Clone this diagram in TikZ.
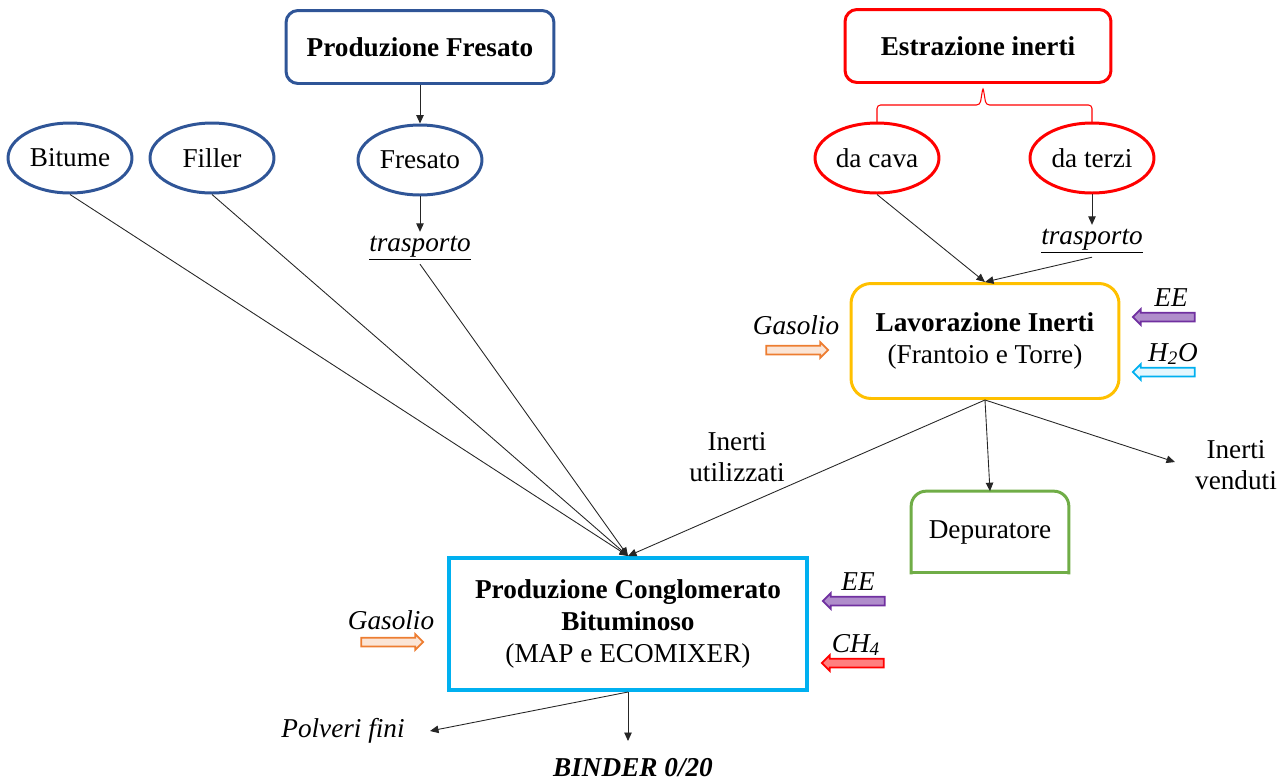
\documentclass[tikz,border=0pt]{standalone}
\usepackage{fontspec}
\setmainfont{Liberation Serif}
\usetikzlibrary{shapes.geometric,shapes.arrows,arrows.meta}
\definecolor{fblue}{HTML}{2F5597}
\definecolor{ered}{HTML}{FF0000}
\definecolor{lyellow}{HTML}{FFC000}
\definecolor{dgreen}{HTML}{70AD47}
\definecolor{ccyan}{HTML}{00B0F0}
\definecolor{gorange}{HTML}{ED7D31}
\definecolor{epurple}{HTML}{7030A0}
\tikzstyle{fbox}=[rectangle,rounded corners=0.24cm,line width=1.7pt,inner sep=0pt,align=center]
\tikzstyle{oval}=[ellipse,line width=1.7pt,inner sep=0pt,minimum width=2.48cm,minimum height=1.4cm]
\tikzstyle{conn}=[-{Triangle[length=0.17cm,width=0.15cm]},line width=0.5pt,black!85]
\tikzstyle{feed}=[single arrow,single arrow head extend=0.07cm,inner sep=0.07cm,minimum height=1.24cm,line width=1pt]
\tikzstyle{lbl}=[inner sep=2pt,align=center]

\begin{document}
\begin{tikzpicture}[x=0.02cm,y=-0.02cm,font=\fontsize{15.5}{18}\selectfont]
		\useasboundingbox (0,0) rectangle (1286,782);
		% sorgenti
		\node (pf) at (420,47) [fbox,draw=fblue,minimum width=5.36cm,minimum height=1.46cm] {\textbf{Produzione Fresato}};
		\node (est) at (978,46) [fbox,draw=ered,minimum width=5.32cm,minimum height=1.46cm] {\textbf{Estrazione inerti}};
		\node (bit) at (70,158) [oval,draw=fblue] {Bitume};
		\node (fil) at (212,158) [oval,draw=fblue] {Filler};
		\node (fre) at (420,160) [oval,draw=fblue] {Fresato};
		\node (cava) at (877,158) [oval,draw=ered] {da cava};
		\node (terzi) at (1092,158) [oval,draw=ered] {da terzi};
		\node (tr1) at (420,248) [lbl] {\underline{\textit{trasporto}}};
		\node (tr2) at (1092,241) [lbl] {\underline{\textit{trasporto}}};
		
		% impianti
		\node (lav) at (985,341) [fbox,draw=lyellow,rounded corners=0.4cm,minimum width=5.36cm,minimum height=2.3cm] {\textbf{Lavorazione Inerti}\\(Frantoio e Torre)};
		\node (dep) at (990,532) [inner sep=0pt,minimum width=3.14cm,minimum height=1.62cm] {Depuratore};
		\node (cong) at (628,624) [rectangle,draw=ccyan,line width=2.3pt,align=center,minimum width=7.16cm,minimum height=2.64cm] {\textbf{Produzione Conglomerato}\\\textbf{Bituminoso}\\(MAP e ECOMIXER)};
		\draw [dgreen,line width=1.7pt,line cap=rect,rounded corners=0.3cm] (dep.south west)-- (dep.north west)-- (dep.north east)-- (dep.south east);
		\draw [dgreen,line width=1.7pt,line cap=rect] (dep.south west)-- (dep.south east);
		
		% uscite
		\node (uti) at (737,457) [lbl] {Inerti\\utilizzati};
		\node (ven) at (1236,465) [lbl] {Inerti\\venduti};
		\node (pol) at (343,731) [lbl] {\textit{Polveri fini}};
		\node (bin) at (633,768) [lbl] {\textbf{\textit{BINDER 0/20}}};
		\coordinate (ve) at (1175,462);
		\coordinate (po) at (430,731);
		\coordinate (bi) at (628,741);
		
		% input energetici
		\node (g1) at (796,325) [lbl] {\textit{Gasolio}};
		\node (e1) at (1171,298) [lbl] {\textit{EE}};
		\node (h1) at (1173,354) [lbl] {\textit{H\textsubscript{2}O}};
		\node (g2) at (391,620) [lbl] {\textit{Gasolio}};
		\node (e2) at (858,582) [lbl] {\textit{EE}};
		\node (c2) at (856,645) [lbl] {\textit{CH\textsubscript{4}}};
		\node (ga1) at (795,350) [feed,draw=gorange,fill=gorange!20] {};
		\node (ea1) at (1166,317) [feed,draw=epurple,fill=epurple!55,shape border rotate=180] {};
		\node (ha1) at (1166,372) [feed,draw=ccyan,fill=ccyan!10,shape border rotate=180] {};
		\node (ga2) at (390,642) [feed,draw=gorange,fill=gorange!20] {};
		\node (ea2) at (856,601) [feed,draw=epurple,fill=epurple!55,shape border rotate=180] {};
		\node (ca2) at (855,663) [feed,draw=ered,fill=ered!50,shape border rotate=180] {};
		
		% graffa
		\draw [ered,line width=0.6pt,rounded corners=2pt] (877,122)-- (877,105)-- (980,105)-- (983,87)-- (986,105)-- (1092,105)-- (1092,122);
		
		\draw [conn] (pf.south)-- (fre.north);
		\draw [conn] (fre.south)-- (tr1.north);
		\draw [conn] (terzi.south)-- (tr2.north);
		\draw [conn] (cava.south)-- (lav.north);
		\draw [conn] (tr2.south)-- (lav.north);
		\draw [conn] (bit.south)-- (cong.north);
		\draw [conn] (fil.south)-- (cong.north);
		\draw [conn] (tr1.south)-- (cong.north);
		\draw [conn] (lav.south)-- (cong.north);
		\draw [conn] (lav.south)-- (dep.north);
		\draw [conn] (lav.south)-- (ve);
		\draw [conn] (cong.south)-- (po);
		\draw [conn] (cong.south)-- (bi);
	\end{tikzpicture}
\end{document}
